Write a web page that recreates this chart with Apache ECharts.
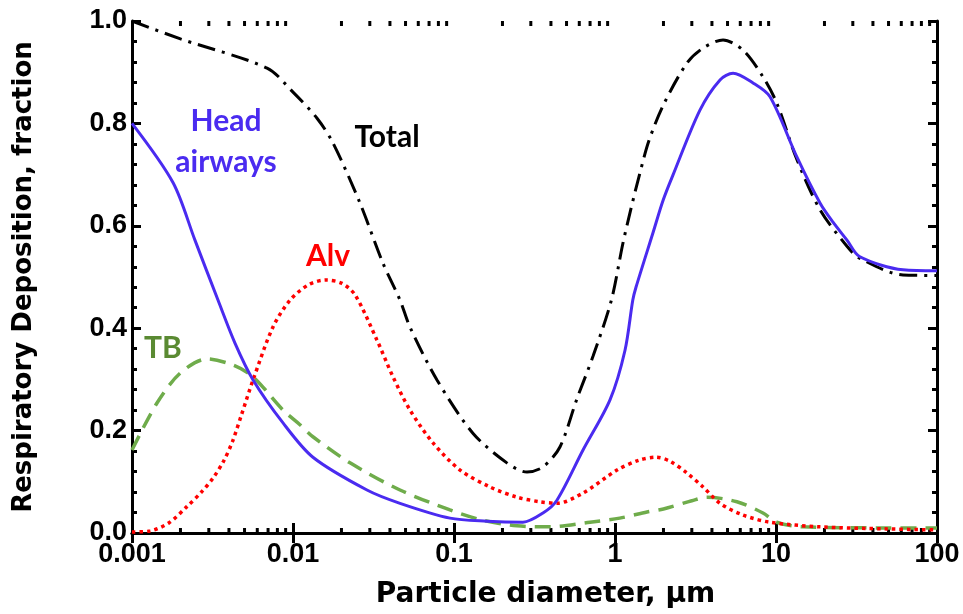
<!DOCTYPE html>
<html>
<head>
<meta charset="utf-8">
<script src="https://cdn.jsdelivr.net/npm/echarts@6/dist/echarts.min.js"></script>
<style>
  html, body { margin: 0; padding: 0; background: #fff; }
  #chart { width: 963px; height: 614px; }
</style>
</head>
<body>
<div id="chart"></div>
<script>
// particle diameter (um) vs deposition fraction
var headData = [
    [0.001, 0.80], [0.0018, 0.684], [0.00246, 0.572], [0.00342, 0.455], [0.00436, 0.371],
    [0.00565, 0.299], [0.00867, 0.215], [0.0133, 0.148], [0.0288, 0.084], [0.0462, 0.058],
    [0.0944, 0.029], [0.16, 0.023], [0.268, 0.021], [0.357, 0.039], [0.436, 0.064],
    [0.633, 0.162], [0.931, 0.26], [1.154, 0.357], [1.29, 0.455], [1.35, 0.48],
    [1.72, 0.586], [1.99, 0.65], [2.29, 0.699], [3.37, 0.826], [4.49, 0.885],
    [5.41, 0.898], [7.2, 0.879], [9.18, 0.852], [13.5, 0.734], [18.8, 0.644],
    [22.6, 0.607], [27.6, 0.572], [33, 0.54], [61.5, 0.514], [100, 0.512]
];
var totalData = [
    [0.001, 1.0], [0.002, 0.965], [0.0069, 0.908], [0.01, 0.861], [0.0141, 0.81],
    [0.0177, 0.762], [0.0261, 0.644], [0.0362, 0.527], [0.0462, 0.455], [0.0533, 0.402],
    [0.0784, 0.299], [0.131, 0.195], [0.213, 0.137], [0.284, 0.119], [0.357, 0.129],
    [0.455, 0.168], [0.58, 0.262], [0.73, 0.345], [0.95, 0.455], [1.12, 0.566],
    [1.26, 0.635], [1.42, 0.7], [1.62, 0.765], [1.99, 0.835], [2.8, 0.918], [3.52, 0.947],
    [4.69, 0.963], [6.24, 0.943], [8.3, 0.891], [10.1, 0.84], [13.5, 0.729],
    [18.8, 0.631], [27.6, 0.56], [33, 0.537], [61.5, 0.504], [100, 0.503]
];
var alvData = [
    [0.001, 0.002], [0.0013, 0.004], [0.0017, 0.02], [0.0022, 0.052], [0.0027, 0.08],
    [0.0032, 0.108], [0.0037, 0.14], [0.0042, 0.178], [0.0048, 0.232], [0.00565, 0.299],
    [0.0075, 0.402], [0.0096, 0.455], [0.0125, 0.485], [0.016, 0.494], [0.02, 0.488],
    [0.0243, 0.465], [0.0332, 0.377], [0.0418, 0.305], [0.0533, 0.24], [0.0741, 0.176],
    [0.109, 0.123], [0.167, 0.09], [0.246, 0.07], [0.342, 0.061], [0.436, 0.058],
    [0.633, 0.078], [1.03, 0.123], [1.4, 0.142], [1.8, 0.148], [2.2, 0.14],
    [2.8, 0.117], [3.52, 0.09], [4.49, 0.058], [6.24, 0.035], [9.18, 0.021],
    [18.8, 0.012], [49, 0.008], [100, 0.006]
];
var tbData = [
    [0.001, 0.162], [0.00143, 0.254], [0.00199, 0.312], [0.00292, 0.34], [0.00424, 0.328],
    [0.00565, 0.305], [0.00867, 0.24], [0.011, 0.212], [0.0133, 0.188], [0.0226, 0.137],
    [0.0462, 0.084], [0.0944, 0.045], [0.151, 0.025], [0.246, 0.014], [0.395, 0.012],
    [0.7, 0.021], [1.07, 0.029], [1.58, 0.041], [2.0, 0.047], [3.0, 0.063],
    [3.73, 0.07], [5.72, 0.061], [8.3, 0.039], [10.1, 0.021], [14.7, 0.012],
    [49, 0.01], [100, 0.01]
];
var xTickLabels = ['0.001', '0.01', '0.1', '1', '10', '100'];

// minor log ticks 2..9 in each decade
var minorX = [];
for (var e = -3; e < 2; e++) {
    for (var m = 2; m < 10; m++) {
        minorX.push([m * Math.pow(10, e)]);
    }
}

var dom = document.getElementById('chart');
var myChart = echarts.init(dom);
var font = 'Liberation Sans';
var titleFont = 'DejaVu Sans';
var labelFont = 'bold 30px Lato';

var xBase = {
    type: 'log',
    logBase: 10,
    min: 0.001,
    max: 100,
    axisLine: { lineStyle: { color: '#000', width: 3 } },
    axisTick: { inside: true, length: 10, lineStyle: { color: '#000', width: 3 } },
    splitLine: { show: false },
    minorTick: { show: false }
};
var yBase = {
    type: 'value',
    min: 0,
    max: 1,
    interval: 0.2,
    axisLine: { show: true, lineStyle: { color: '#000', width: 3 } },
    axisTick: { show: true, inside: true, length: 9, lineStyle: { color: '#000', width: 3 } },
    minorTick: { show: true, splitNumber: 5, length: 5, lineStyle: { color: '#000', width: 3 } },
    splitLine: { show: false }
};

var option = {
    backgroundColor: '#fff',
    animation: false,
    grid: { left: 132, right: 26, top: 21, bottom: 81 },
    xAxis: [
        Object.assign({}, xBase, {
            position: 'bottom',
            name: 'Particle diameter, \u03bcm',
            nameLocation: 'middle',
            nameGap: 48,
            nameTextStyle: {
                fontFamily: titleFont, fontWeight: 'bold', fontSize: 28, color: '#000',
                padding: [0, 0, 0, 22]
            },
            axisLabel: {
                margin: 8,
                fontFamily: font, fontWeight: 'bold', fontSize: 27, color: '#000',
                formatter: function (v) {
                    var i = Math.round(Math.log10(v)) + 3;
                    return xTickLabels[i];
                }
            }
        }),
        Object.assign({}, xBase, { position: 'top', axisLabel: { show: false } })
    ],
    yAxis: [
        Object.assign({}, yBase, {
            position: 'left',
            name: 'Respiratory Deposition, fraction',
            nameLocation: 'middle',
            nameGap: 95,
            nameTextStyle: { fontFamily: titleFont, fontWeight: 'bold', fontSize: 26, color: '#000' },
            axisLabel: {
                margin: 5,
                fontFamily: font, fontWeight: 'bold', fontSize: 27, color: '#000',
                formatter: function (v) { return v.toFixed(1); }
            }
        }),
        Object.assign({}, yBase, { position: 'right', axisLabel: { show: false } })
    ],
    graphic: [
        { type: 'text', x: 226, y: 121, style: { text: 'Head', fill: '#4a2bf0', font: labelFont, align: 'center', verticalAlign: 'middle' } },
        { type: 'text', x: 226, y: 162, style: { text: 'airways', fill: '#4a2bf0', font: labelFont, align: 'center', verticalAlign: 'middle' } },
        { type: 'text', x: 387, y: 137, style: { text: 'Total', fill: '#000', font: labelFont, align: 'center', verticalAlign: 'middle' } },
        { type: 'text', x: 328, y: 256, style: { text: 'Alv', fill: '#ff0000', font: labelFont, align: 'center', verticalAlign: 'middle' } },
        { type: 'text', x: 163, y: 348, style: { text: 'TB', fill: '#5a8a32', font: labelFont, align: 'center', verticalAlign: 'middle' } }
    ],
    series: [
        {
            type: 'custom',
            silent: true,
            clip: false,
            data: minorX,
            renderItem: function (params, api) {
                var x = api.value(0);
                var b = api.coord([x, 0]);
                var t = api.coord([x, 1]);
                var st = { stroke: '#000', lineWidth: 3 };
                return {
                    type: 'group',
                    children: [
                        { type: 'line', shape: { x1: b[0], y1: b[1], x2: b[0], y2: b[1] - 5 }, style: st },
                        { type: 'line', shape: { x1: t[0], y1: t[1], x2: t[0], y2: t[1] + 5 }, style: st }
                    ]
                };
            }
        },
        {
            name: 'TB',
            type: 'line',
            data: tbData,
            symbol: 'none',
            smooth: 0.3,
            lineStyle: { color: '#6fac4b', width: 3.5, type: [16, 9] }
        },
        {
            name: 'Alv',
            type: 'line',
            data: alvData,
            symbol: 'none',
            smooth: 0.3,
            lineStyle: { color: '#ff0000', width: 3.5, type: [3.5, 4] }
        },
        {
            name: 'Total',
            type: 'line',
            data: totalData,
            symbol: 'none',
            smooth: 0.3,
            lineStyle: { color: '#000', width: 3, type: [18, 7, 3, 7] }
        },
        {
            name: 'Head airways',
            type: 'line',
            data: headData,
            symbol: 'none',
            smooth: 0.3,
            lineStyle: { color: '#4a2bf0', width: 3 }
        }
    ]
};

if (option && typeof option === "object") {
    myChart.setOption(option, true);
}
</script>
</body>
</html>
